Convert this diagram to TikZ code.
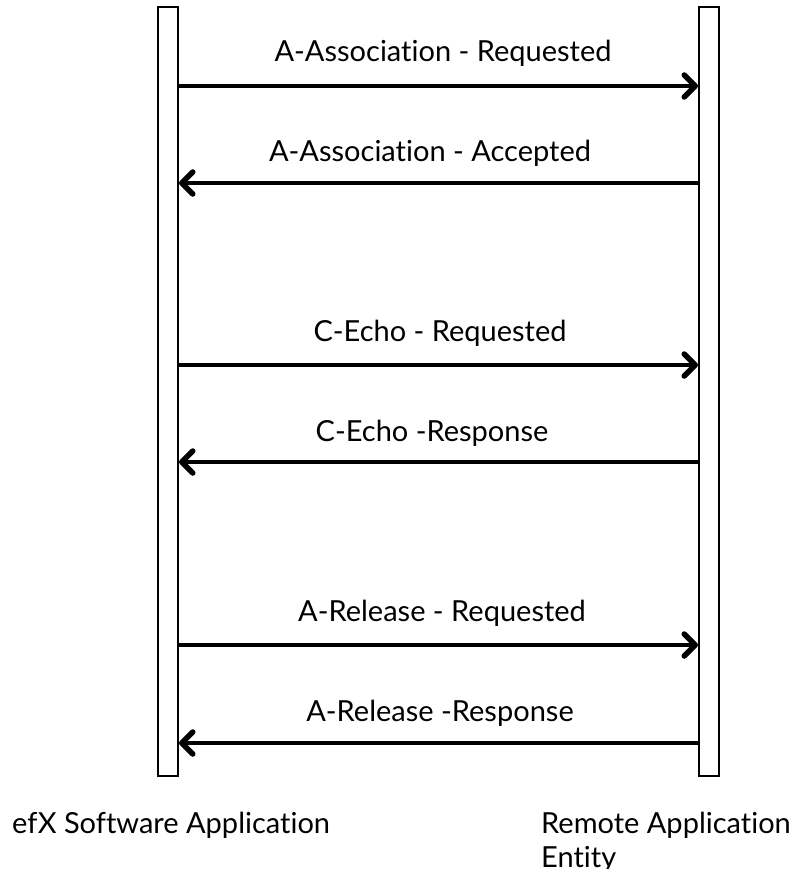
\documentclass[tikz,border=0pt]{standalone}
\usepackage{fontspec}
\setmainfont{Lato}[RawFeature={-liga;-dlig;-calt}]
\usetikzlibrary{arrows.meta}
\begin{document}
\begin{tikzpicture}[x=1pt,y=-1pt,
  lifeline/.style={draw=black,line width=2pt,fill=white,minimum width=20pt,minimum height=769pt,inner sep=0pt},
  msg/.style={line width=4pt,-{Straight Barb[length=11pt,width=22pt,line width=5.5pt,line cap=round,line join=round]}},
  lbl/.style={font=\fontsize{29}{34}\selectfont,inner sep=0pt,anchor=base},
  party/.style={font=\fontsize{29}{34}\selectfont,inner sep=0pt,anchor=base west,align=left}]
\useasboundingbox (0,0) rectangle (798,869);
\node[lifeline] (L) at (168,391.5) {};
\node[lifeline] (R) at (709,391.5) {};
% message rows: y positions
\foreach \y/\name in {86/m1,183/m2,365/m3,462/m4,645/m5,743/m6}{
  \coordinate (Ll\name) at (L.east |- 0,\y);
  \coordinate (Rr\name) at (R.west |- 0,\y);
}
\draw[msg] (Llm1) -- (Rrm1);
\draw[msg] (Rrm2) -- (Llm2);
\draw[msg] (Llm3) -- (Rrm3);
\draw[msg] (Rrm4) -- (Llm4);
\draw[msg] (Llm5) -- (Rrm5);
\draw[msg] (Rrm6) -- (Llm6);
\node[lbl] (t1) at (443,62) {A-Association - Requested};
\node[lbl] (t2) at (430,161) {A-Association - Accepted};
\node[lbl] (t3) at (440,341) {C-Echo - Requested};
\node[lbl] (t4) at (432,441) {C-Echo -Response};
\node[lbl] (t5) at (442,621) {A-Release - Requested};
\node[lbl] (t6) at (440,721) {A-Release -Response};
\node[party] (pl) at (12,833) {efX Software Application};
\node[party] (pr) at (541,867) {Remote Application\\Entity};
\end{tikzpicture}
\end{document}
